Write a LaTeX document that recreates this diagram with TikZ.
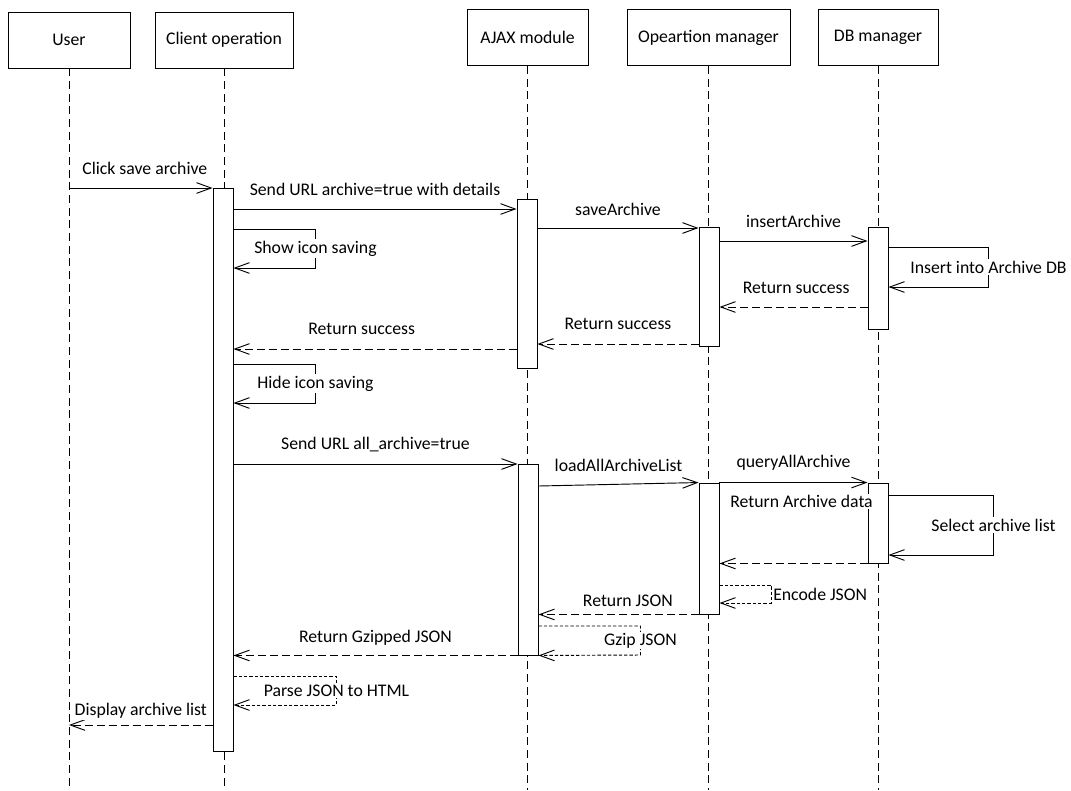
\documentclass[tikz,border=0pt]{standalone}
\usepackage{fontspec}
\setmainfont{Carlito}
\usetikzlibrary{arrows.meta}

\begin{document}
\begin{tikzpicture}[x=0.75pt, y=-0.75pt, font=\fontsize{13.3pt}{16pt}\selectfont, line width=0.7pt,
    head/.style={draw, rectangle, minimum height=42pt, inner sep=2pt},
    act/.style={draw, rectangle, fill=white, minimum width=15pt, inner sep=0pt},
    life/.style={dash pattern=on 6pt off 3.5pt},
    msg/.style={-{Straight Barb[length=11pt, width=8pt]}},
    ret/.style={msg, dash pattern=on 6pt off 3pt},
    note/.style={msg, dash pattern=on 2.5pt off 1.5pt},
    lbl/.style={fill=white, inner sep=1pt}]
    \useasboundingbox (0,0) rectangle (1071,790);

    \node (user) [head, minimum width=91.5pt] at (69,40) {User};
    \node (client) [head, minimum width=103.5pt] at (224,40) {Client operation};
    \node (ajax) [head, minimum width=90.75pt] at (527.5,37.5) {AJAX module};
    \node (opman) [head, minimum width=122.25pt] at (708.5,37.5) {Opeartion manager};
    \node (dbman) [head, minimum width=90pt] at (878,37.5) {DB manager};

    \draw [life] (user.south) -- (user.south |- 0,790);
    \draw [life] (client.south) -- (client.south |- 0,790);
    \draw [life] (ajax.south) -- (ajax.south |- 0,790);
    \draw [life] (opman.south) -- (opman.south |- 0,790);
    \draw [life] (dbman.south) -- (dbman.south |- 0,790);

    \node (ca1) [act, minimum height=422.25pt] at (223,469.5) {};
    \node (aj1) [act, minimum height=126.75pt] at (527,283.5) {};
    \node (op1) [act, minimum height=89.6pt] at (709,286.75) {};
    \node (db1) [act, minimum height=76.5pt] at (878,278) {};
    \node (aj2) [act, minimum height=143.25pt] at (528,559.5) {};
    \node (op2) [act, minimum height=98.25pt] at (709,548.5) {};
    \node (db2) [act, minimum height=60pt] at (878,523) {};

    \draw [msg] (user.south |- 0,188) -- node[lbl, yshift=15pt, xshift=3pt] {Click save archive} (ca1.west |- 0,188);
    \draw [msg] (ca1.east |- 0,209) -- node[lbl, yshift=15pt] {Send URL archive=true with details} (aj1.west |- 0,209);
    \draw [msg] (ca1.east |- 0,229) -- ++(82,0) -- node[lbl] {Show icon saving} ++(0,39) -- (ca1.east |- 0,268);
    \draw [msg] (aj1.east |- 0,228) -- node[lbl, yshift=14pt] {saveArchive} (op1.west |- 0,228);
    \draw [msg] (op1.east |- 0,241) -- node[lbl, yshift=15pt] {insertArchive} (db1.west |- 0,241);
    \draw [msg] (db1.east |- 0,247) -- ++(100,0) -- node[lbl] {Insert into Archive DB} ++(0,40) -- (db1.east |- 0,287);
    \draw [ret] (db1.west |- 0,307) -- node[lbl, yshift=14pt, xshift=2pt] {Return success} (op1.east |- 0,307);
    \draw [ret] (op1.west |- 0,344) -- node[lbl, yshift=15pt] {Return success} (aj1.east |- 0,344);
    \draw [ret] (aj1.west |- 0,349) -- node[lbl, yshift=15pt, xshift=-10pt] {Return success} (ca1.east |- 0,349);
    \draw [msg] (ca1.east |- 0,364) -- ++(82,0) -- node[lbl] {Hide icon saving} ++(0,39) -- (ca1.east |- 0,403);

    \draw [msg] (ca1.east |- 0,464) -- node[lbl, yshift=14.5pt] {Send URL all\_archive=true} (aj2.west |- 0,464);
    \draw [msg] (aj2.east |- 0,486) -- node[lbl, yshift=14pt] {loadAllArchiveList} (op2.north west);
    \draw [msg] (op2.north east) -- node[lbl, yshift=15pt] {queryAllArchive} (db2.north west);
    \draw [msg] (db2.east |- 0,495) -- ++(105,0) -- node[lbl] {Select archive list} ++(0,60) -- (db2.east |- 0,555);
    \draw [ret] (db2.south west) -- node[lbl, yshift=46.5pt, xshift=6pt] {Return Archive data} (op2.east |- db2.south);
    \draw [note] (op2.east |- 0,585) -- ++(52,0) -- node[lbl, anchor=west] {Encode JSON} ++(0,18) -- (op2.east |- 0,603);
    \draw [ret] (op2.south west) -- node[lbl, yshift=10.5pt, xshift=7pt] {Return JSON} (aj2.east |- op2.south);
    \draw [note] (aj2.east |- 0,626) -- ++(102,0) -- node[lbl] {Gzip JSON} ++(0,29) -- (aj2.south east);
    \draw [ret] (aj2.south west) -- node[lbl, yshift=13.5pt] {Return Gzipped JSON} (ca1.east |- aj2.south);
    \draw [note] (ca1.east |- 0,676) -- ++(103,0) -- node[lbl] {Parse JSON to HTML} ++(0,29) -- (ca1.east |- 0,705);
    \draw [ret] (ca1.west |- 0,725) -- node[lbl, yshift=10.5pt] {Display archive list} (user.south |- 0,725);
\end{tikzpicture}
\end{document}
